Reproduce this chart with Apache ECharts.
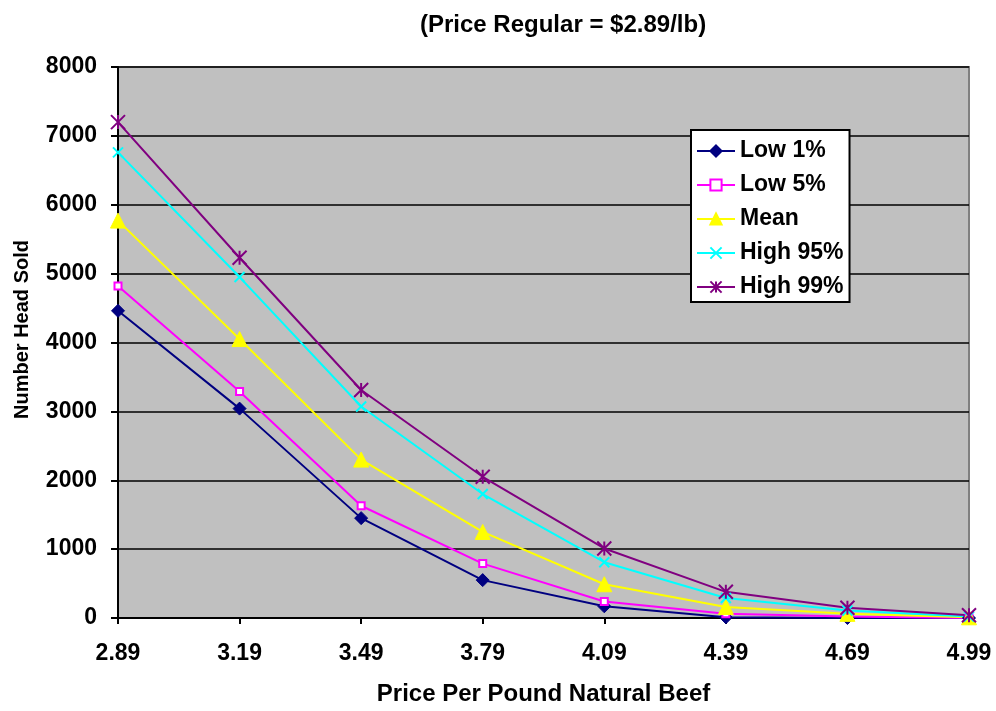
<!DOCTYPE html>
<html><head><meta charset="utf-8">
<script src="https://cdn.jsdelivr.net/npm/echarts@6/dist/echarts.min.js"></script>
<style>html,body{margin:0;padding:0;background:#fff}#c{width:996px;height:711px}</style>
</head><body><div id="c"></div>
<script>
const categories = ['2.89','3.19','3.49','3.79','4.09','4.39','4.69','4.99'];
const low1   = [4460, 3040, 1450, 550, 170, 10, 0, 0];
const low5   = [4820, 3290, 1630, 790, 240, 60, 20, 0];
const mean   = [5770, 4050, 2300, 1250, 490, 160, 60, 10];
const high95 = [6760, 4950, 3070, 1800, 810, 290, 110, 20];
const high99 = [7200, 5230, 3310, 2050, 1010, 380, 150, 40];
const seriesNames = ['Low 1%','Low 5%','Mean','High 95%','High 99%'];
const yTicks = [0,1000,2000,3000,4000,5000,6000,7000,8000];

const FONT = 'Arial, "Liberation Sans", sans-serif';
const chart = echarts.init(document.getElementById('c'));
const X_PATH = 'path://M0,0L10,10M10,0L0,10';
const AST_PATH = 'path://M0,0L10,10M10,0L0,10M5,0L5,10';

function mk(name, data, color, symbol, size, extra) {
  return Object.assign({
    name, type: 'line', data, symbol, symbolSize: size,
    showAllSymbol: true,
    lineStyle: { color, width: 2 },
    itemStyle: { color, borderColor: color, borderWidth: 1 },
    emphasis: { disabled: true },
    animation: false,
    z: 3
  }, extra || {});
}

chart.setOption({
  animation: false,
  backgroundColor: '#ffffff',
  title: {
    text: '(Price Regular = $2.89/lb)',
    left: 415, top: 8,
    textStyle: { fontFamily: FONT, fontSize: 24, fontWeight: 'bold', color: '#000' }
  },
  grid: {
    left: 118, right: 27, top: 67, bottom: 91,
    show: true, backgroundColor: '#C0C0C0', borderColor: '#808080', borderWidth: 2
  },
  legend: {
    orient: 'vertical',
    left: 691, top: 130,
    data: seriesNames,
    backgroundColor: '#ffffff',
    borderColor: '#000', borderWidth: 2,
    padding: [9, 6, 3, 5],
    itemWidth: 38, itemHeight: 14, itemGap: 10,
    textStyle: { fontFamily: FONT, fontSize: 23, fontWeight: 'bold', color: '#000', lineHeight: 24 }
  },
  xAxis: {
    type: 'category', data: categories, boundaryGap: false,
    name: 'Price Per Pound Natural Beef', nameLocation: 'middle', nameGap: 64,
    nameTextStyle: { fontFamily: FONT, fontSize: 24, fontWeight: 'bold', color: '#000' },
    axisLine: { lineStyle: { color: '#000', width: 2 } },
    axisTick: { show: true, length: 6, lineStyle: { color: '#000', width: 2 }, alignWithLabel: true },
    axisLabel: { fontFamily: FONT, fontSize: 23, fontWeight: 'bold', color: '#000', margin: 24 },
    splitLine: { show: false }
  },
  yAxis: {
    type: 'value', min: yTicks[0], max: yTicks[yTicks.length-1], interval: 1000,
    name: 'Number Head Sold', nameLocation: 'middle', nameGap: 86, nameRotate: 90,
    nameTextStyle: { fontFamily: FONT, fontSize: 20, fontWeight: 'bold', color: '#000', padding: [0, 0, 0, 26] },
    axisLine: { show: true, lineStyle: { color: '#000', width: 2 } },
    axisTick: { show: true, length: 7, lineStyle: { color: '#000', width: 2 } },
    axisLabel: { fontFamily: FONT, fontSize: 23, fontWeight: 'bold', color: '#000', margin: 21,
                 formatter: v => String(v) },
    splitLine: { show: true, lineStyle: { color: '#000', width: 1.5 } }
  },
  series: [
    mk(seriesNames[0], low1, '#000080', 'diamond', 13),
    mk(seriesNames[1], low5, '#FF00FF', 'rect', 7, { itemStyle: { color: '#FFFFFF', borderColor: '#FF00FF', borderWidth: 2 } }),
    mk(seriesNames[2], mean, '#FFFF00', 'triangle', 15),
    mk(seriesNames[3], high95, '#00FFFF', X_PATH, 10, { itemStyle: { color: '#00FFFF', borderColor: '#00FFFF', borderWidth: 2 } }),
    mk(seriesNames[4], high99, '#800080', AST_PATH, 14, { itemStyle: { color: '#800080', borderColor: '#800080', borderWidth: 2 } })
  ]
});
</script>
</body></html>
